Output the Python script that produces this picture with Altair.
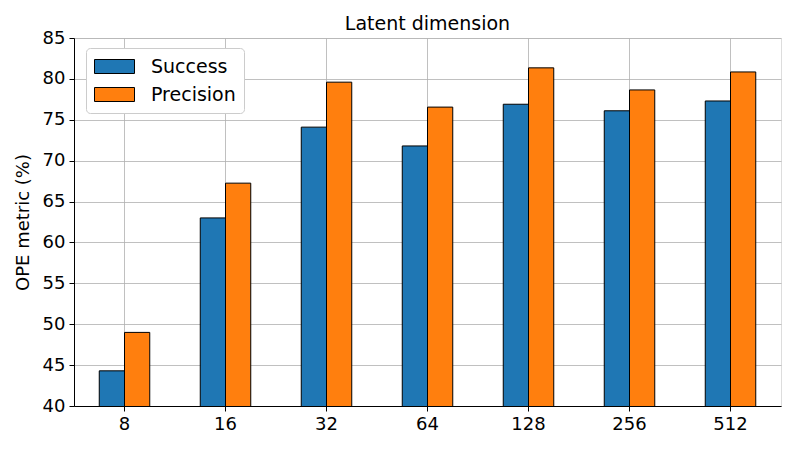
import altair as alt
import pandas as pd

dims = ["8", "16", "32", "64", "128", "256", "512"]
success = [44.3, 63.0, 74.1, 71.8, 76.9, 76.1, 77.3]
precision = [49.0, 67.25, 79.6, 76.55, 81.35, 78.65, 80.85]
metrics = ["Success", "Precision"]
colors = ["#1f77b4", "#ff7f0e"]

rows = []
for d, s, p in zip(dims, success, precision):
    rows.append({"dim": d, "metric": "Success", "value": s})
    rows.append({"dim": d, "metric": "Precision", "value": p})
df = pd.DataFrame(rows)

FONT = "DejaVu Sans"

chart = alt.Chart(df).mark_bar(stroke="black", strokeWidth=1, clip=True).encode(
    x=alt.X("dim:N", sort=dims, title=None,
            scale=alt.Scale(paddingInner=0.5, paddingOuter=0.25),
            axis=alt.Axis(labelAngle=0, bandPosition=0.5, grid=True, gridColor="#b0b0b0",
                          gridWidth=0.8, tickColor="black", tickSize=5, domainColor="black",
                          labelFontSize=18, labelColor="black", labelPadding=4, labelFont=FONT)),
    xOffset=alt.XOffset("metric:N", sort=metrics),
    y=alt.Y("value:Q", title="OPE metric (%)",
            scale=alt.Scale(domain=[40, 85], nice=False, zero=False),
            axis=alt.Axis(values=list(range(40, 90, 5)), grid=True, gridColor="#b0b0b0",
                          gridWidth=0.8, tickColor="black", tickSize=5, domainColor="black",
                          labelFontSize=18, labelColor="black", labelPadding=4, labelFont=FONT,
                          titleFontSize=18, titleFontWeight="normal", titleColor="black",
                          titlePadding=10, titleFont=FONT)),
    color=alt.Color("metric:N", sort=metrics,
                    scale=alt.Scale(domain=metrics, range=colors),
                    legend=alt.Legend(title=None, orient="none", legendX=12, legendY=10,
                                      symbolType="M-1,-0.7L3,-0.7L3,0.7L-1,0.7Z",
                                      symbolSize=400, symbolStrokeColor="black",
                                      symbolStrokeWidth=1,
                                      labelFontSize=19, labelFont=FONT, labelColor="black",
                                      labelOffset=36, rowPadding=7,
                                      padding=8, strokeColor="#cccccc", cornerRadius=4,
                                      fillColor="white")),
).properties(
    width=707,
    height=368,
    title=alt.TitleParams("Latent dimension", fontSize=19, font=FONT, fontWeight="normal",
                          color="black", offset=-5),
    autosize=alt.AutoSizeParams(type="none"),
    padding={"left": 66, "top": 30, "right": 11, "bottom": 36},
).configure_view(
    stroke="black", strokeWidth=1
).configure(
    font=FONT
)

chart.save("out.html", embed_options={"renderer": "svg", "actions": False})
